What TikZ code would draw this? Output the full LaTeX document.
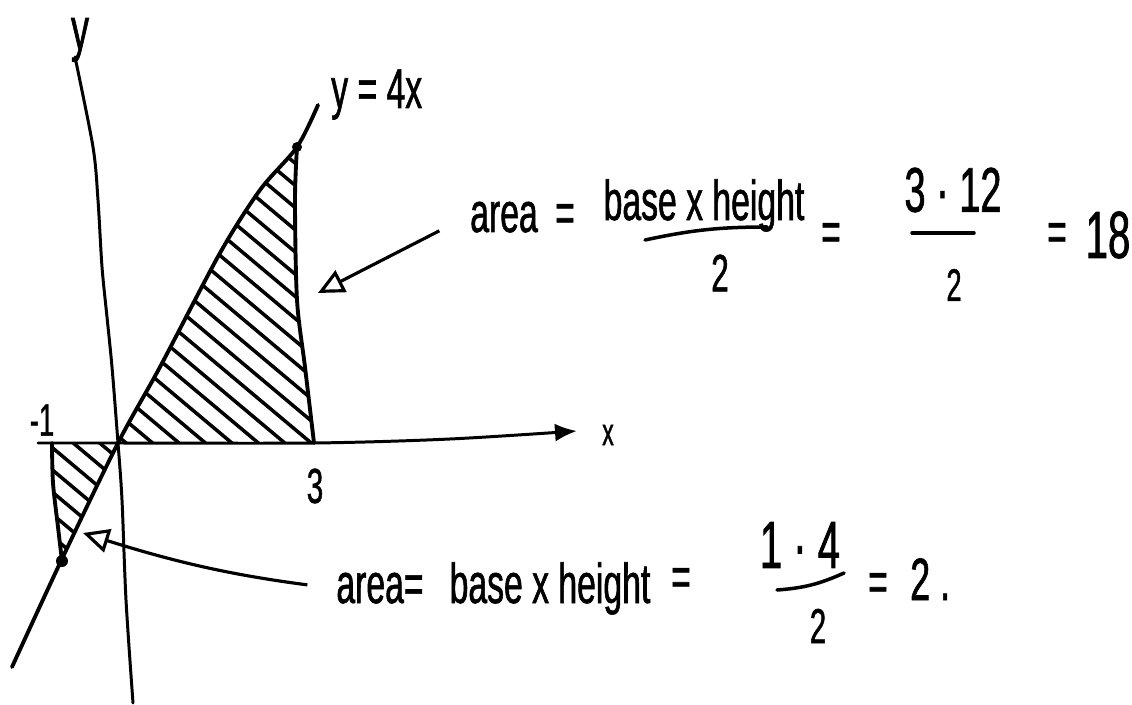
\documentclass[tikz,border=0pt]{standalone}
\usepackage{fontspec}
\usepackage{tikz}
\usetikzlibrary{arrows.meta}
\newfontfamily\handfont{Liberation Sans}[FakeStretch=0.6,FakeBold=1]

\begin{document}
\begin{tikzpicture}[
		hand/.style={font={\handfont\fontsize{#1}{#1}\selectfont}, inner sep=1pt},
		hand/.default=16,
		axis/.style={line width=0.85pt, line cap=round},
		curve/.style={line width=1.1pt, line cap=round},
		hatch/.style={line width=1pt, line cap=round},
		bar/.style={line width=1pt, line cap=round},
		pointer/.style={line width=0.9pt, -{Triangle[open,length=2.6mm,width=2.4mm]}},
		dot/.style={circle, fill, inner sep=0pt, minimum size=1mm}]
		\useasboundingbox (0,0) rectangle (11.32,7.04);
		% axes
		\draw[axis] plot[smooth] coordinates
			{(0.75,6.47)(0.93,5.57)(0.98,5.04)(1.02,4.37)(1.07,3.87)(1.12,3.37)(1.18,2.61)(1.22,2.04)(1.26,1.04)(1.33,0.01)};
		\draw[axis,-{Latex[length=2.2mm,width=1.8mm]}] plot[smooth] coordinates
			{(0.38,2.61)(1.18,2.61)(3.14,2.61)(4.5,2.65)(5.77,2.73)};
		\node[hand=17] (ylab) at (0.80,6.64) {y};
		\node[hand=11] (xlab) at (6.08,2.69) {x};
		\node[hand=13] (mlab) at (0.42,2.84) {-1};
		\node[hand=14] (tlab) at (3.15,2.18) {3};
		% y = 4x
		\draw[curve] plot[smooth] coordinates
			{(0.12,0.37)(0.61,1.43)(1.18,2.61)(1.60,3.37)(2.20,4.51)(2.60,5.14)(2.97,5.57)(3.18,5.99)};
		\node[hand, anchor=base west] (linelab) at (3.27,5.96) {y = 4x};
		% x = 3 and x = -1
		\draw[curve] plot[smooth] coordinates
			{(2.97,5.57)(2.95,5.04)(2.97,4.04)(3.05,3.37)(3.14,2.61)};
		\draw[curve] plot[smooth] coordinates
			{(0.52,2.61)(0.53,2.21)(0.58,1.77)(0.62,1.43)};
		\node[dot] (ptop) at (2.97,5.57) {};
		\node[dot, minimum size=1.2mm] (pbot) at (0.62,1.43) {};
		% hatching
		\begin{scope}
			\clip plot[smooth] coordinates {(1.18,2.61)(1.60,3.37)(2.20,4.51)(2.60,5.14)(2.97,5.57)}
				-- plot[smooth] coordinates {(2.97,5.57)(2.95,5.04)(2.97,4.04)(3.05,3.37)(3.14,2.61)} -- cycle
				(0.52,2.61) -- (1.18,2.61) -- (0.62,1.43) -- (0.58,1.77) -- (0.53,2.21) -- cycle;
			\foreach \s in {1.62,1.79,...,6.1}
				\draw[hatch,rotate=-40] (-2.5,\s) -- (2,\s);
		\end{scope}
		% upper area
		\node[hand, anchor=base] (areaA) at (5.04,4.72) {area};
		\node[hand] (eqA1) at (5.65,4.86) {=};
		\node[hand, anchor=base] (numA1) at (7.04,4.84) {base x height};
		\draw[bar] (6.45,4.64) to[bend left=6] (7.67,4.77);
		\node[hand=15] (denA1) at (7.20,4.31) {2};
		\node[hand] (eqA2) at (8.31,4.67) {=};
		\node[hand=18] (numA2) at (9.53,5.14) {3 · 12};
		\draw[bar] (9.12,4.71) -- (9.74,4.71);
		\node[hand=13] (denA2) at (9.54,4.19) {2};
		\node[hand] (eqA3) at (10.57,4.67) {=};
		\node[hand=19] (resA) at (11.08,4.69) {18};
		\coordinate (tipA) at (3.18,4.11);
		\draw[pointer, shorten <=3mm] (areaA.west) -- (tipA);
		% lower area
		\node[hand, anchor=base] (areaB) at (3.80,1.01) {area=};
		\node[hand, anchor=base] (numB1) at (5.50,1.01) {base x height};
		\node[hand] (eqB1) at (6.81,1.22) {=};
		\node[hand=19] (numB2) at (8.00,1.59) {1 · 4};
		\draw[bar] (7.77,1.14) to[bend right=10] (8.44,1.31);
		\node[hand=14] (denB) at (8.18,0.78) {2};
		\node[hand] (eqB2) at (8.78,1.17) {=};
		\node[hand=17, anchor=base west] (resB) at (9.06,1.04) {2\,.};
		\coordinate (tipB) at (0.83,1.71);
		\draw[pointer, shorten <=2.5mm] (areaB.west) to[bend left=5] (tipB);
	\end{tikzpicture}
\end{document}
